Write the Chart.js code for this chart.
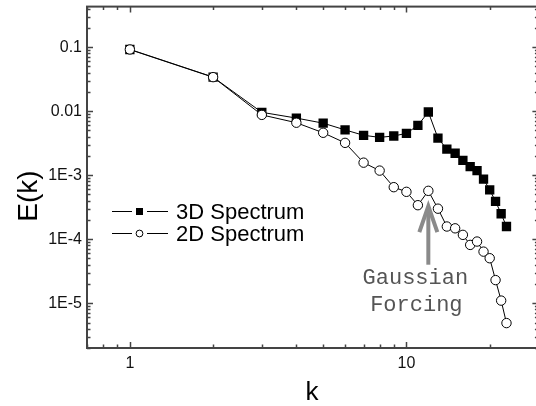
<!DOCTYPE html>
<html>
<head>
<meta charset="utf-8">
<script src="https://cdn.jsdelivr.net/npm/chart.js@4/dist/chart.umd.min.js"></script>
<style>
  html, body { margin: 0; padding: 0; background: #fff; overflow: hidden; }
  #wrap { width: 545px; height: 406px; }
</style>
</head>
<body>
<div id="wrap"><canvas id="c" width="545" height="406"></canvas></div>
<script>
// Wavenumbers
const kValues = [1, 2, 3, 4, 5, 6, 7, 8, 9, 10, 11, 12, 13, 14, 15, 16, 17, 18, 19, 20, 21, 22, 23];

// Energy spectrum of the 3D field
const spectrum3D = [0.092, 0.034, 0.0096, 0.0078, 0.0065, 0.0051, 0.0042, 0.0039, 0.0041, 0.0045,
                    0.0060, 0.0097, 0.0038, 0.00255, 0.0022, 0.0017, 0.00136, 0.00118, 0.00087,
                    0.00059, 0.00039, 0.00025, 0.000158];

// Energy spectrum of the 2D field
const spectrum2D = [0.092, 0.034, 0.00875, 0.0066, 0.0046, 0.0032, 0.00157, 0.00118, 0.00065, 0.00055,
                    0.00034, 0.00057, 0.00030, 0.000158, 0.000148, 0.000117, 0.0000815, 0.000092,
                    0.000064, 0.0000505, 0.000023, 0.000011, 0.0000049];

// Tick labels
const xTickValues = [1, 10];
const xTickLabels = ['1', '10'];
const yTickValues = [1e-5, 1e-4, 1e-3, 0.01, 0.1];
const yTickLabels = ['1E-5', '1E-4', '1E-3', '0.01', '0.1'];

// Forcing annotation (arrow under the forced wavenumber)
const forcingK = 12;
const arrowTipValue = 3.4e-4;
const arrowTailValue = 4.0e-5;

const SANS = '"Liberation Sans", Arial, Helvetica, sans-serif';
const MONO = '"Liberation Mono", "Courier New", monospace';
const AXIS_COLOR = '#444';

const toPoints = (ys) => kValues.map((k, i) => ({ x: k, y: ys[i] }));

function minorValues(min, max) {
  const out = [];
  for (let e = Math.floor(Math.log10(min)); e <= Math.ceil(Math.log10(max)); e++) {
    for (let m = 1; m <= 9; m++) {
      const v = m * Math.pow(10, e);
      if (v >= min && v <= max) out.push({ v, major: m === 1 });
    }
  }
  return out;
}

function noScalePadding(s) {
  s.paddingTop = 0;
  s.paddingBottom = 0;
  s.paddingLeft = 0;
  s.paddingRight = 0;
}

const framePlugin = {
  id: 'frame',
  afterDraw(chart) {
    const { ctx, chartArea: a, scales } = chart;
    const xs = scales.x, ys = scales.y;
    ctx.save();

    // inward tick marks on all four sides
    ctx.strokeStyle = AXIS_COLOR;
    ctx.lineWidth = 1.5;
    ctx.beginPath();
    minorValues(xs.min, xs.max).forEach(t => {
      const px = Math.round(xs.getPixelForValue(t.v)) + 0.5;
      const len = t.major ? 6 : 3.5;
      ctx.moveTo(px, a.bottom); ctx.lineTo(px, a.bottom - len);
      ctx.moveTo(px, a.top); ctx.lineTo(px, a.top + len);
    });
    minorValues(ys.min, ys.max).forEach(t => {
      const py = Math.round(ys.getPixelForValue(t.v)) + 0.5;
      const len = t.major ? 6 : 3.5;
      ctx.moveTo(a.left, py); ctx.lineTo(a.left + len, py);
      ctx.moveTo(a.right, py); ctx.lineTo(a.right - len, py);
    });
    ctx.stroke();

    // frame
    ctx.lineWidth = 2;
    ctx.strokeRect(a.left, a.top, a.right - a.left, a.bottom - a.top);

    // axis titles
    ctx.fillStyle = '#000';
    ctx.font = '26px ' + SANS;
    ctx.textAlign = 'center';
    ctx.textBaseline = 'alphabetic';
    ctx.fillText('k', 312, 400);
    ctx.save();
    ctx.translate(37, 196);
    ctx.rotate(-Math.PI / 2);
    ctx.font = '28px ' + SANS;
    ctx.fillText('E(k)', 0, 0);
    ctx.restore();

    // legend
    const rows = [
      { y: 211.5, label: '3D Spectrum', square: true },
      { y: 233.5, label: '2D Spectrum', square: false }
    ];
    rows.forEach(r => {
      ctx.strokeStyle = '#000';
      ctx.lineWidth = 1;
      ctx.beginPath();
      ctx.moveTo(112, r.y); ctx.lineTo(132, r.y);
      ctx.moveTo(147, r.y); ctx.lineTo(168, r.y);
      ctx.stroke();
      if (r.square) {
        ctx.fillStyle = '#000';
        ctx.fillRect(136, r.y - 3.5, 7, 7);
      } else {
        ctx.fillStyle = '#fff';
        ctx.beginPath();
        ctx.arc(139.5, r.y, 3.4, 0, Math.PI * 2);
        ctx.fill();
        ctx.stroke();
      }
      ctx.fillStyle = '#000';
      ctx.font = '22px ' + SANS;
      ctx.textAlign = 'left';
      ctx.textBaseline = 'middle';
      ctx.fillText(r.label, 176, r.y + 1);
    });

    // forcing arrow and caption
    const ax = xs.getPixelForValue(forcingK);
    const tipY = ys.getPixelForValue(arrowTipValue);
    const tailY = ys.getPixelForValue(arrowTailValue);
    ctx.strokeStyle = '#8a8a8a';
    ctx.lineWidth = 4;
    ctx.lineCap = 'butt';
    ctx.lineJoin = 'miter';
    ctx.beginPath();
    ctx.moveTo(ax, tipY + 2); ctx.lineTo(ax, tailY);
    ctx.stroke();
    ctx.beginPath();
    ctx.moveTo(ax - 9, tipY + 27); ctx.lineTo(ax, tipY + 1); ctx.lineTo(ax + 9, tipY + 27);
    ctx.stroke();

    ctx.fillStyle = '#555';
    ctx.font = '22px ' + MONO;
    ctx.textAlign = 'center';
    ctx.textBaseline = 'middle';
    ctx.fillText('Gaussian', ax - 13, tailY + 13);
    ctx.fillText('Forcing', ax - 12, tailY + 40);

    ctx.restore();
  }
};

new Chart(document.getElementById('c'), {
  type: 'line',
  data: {
    datasets: [
      {
        label: '2D Spectrum',
        data: toPoints(spectrum2D),
        order: 0,
        borderColor: '#000',
        borderWidth: 1,
        pointStyle: 'circle',
        pointRadius: 4.7,
        pointBackgroundColor: '#fff',
        pointBorderColor: '#000',
        pointBorderWidth: 1,
        tension: 0
      },
      {
        label: '3D Spectrum',
        data: toPoints(spectrum3D),
        order: 1,
        borderColor: '#000',
        borderWidth: 1,
        pointStyle: 'rect',
        pointRadius: 6.6,
        pointBackgroundColor: '#000',
        pointBorderColor: '#000',
        pointBorderWidth: 0,
        tension: 0
      }
    ]
  },
  options: {
    responsive: false,
    animation: false,
    devicePixelRatio: 1,
    layout: { padding: { left: 0, right: 2, top: 6, bottom: 0 } },
    plugins: { legend: { display: false }, tooltip: { enabled: false } },
    scales: {
      x: {
        type: 'logarithmic',
        min: 0.7,
        max: 30,
        grid: { display: false, drawTicks: false },
        border: { display: false },
        afterBuildTicks: (s) => { s.ticks = xTickValues.map(v => ({ value: v })); },
        afterFit: (s) => { s.height = 58; noScalePadding(s); },
        ticks: {
          autoSkip: false,
          maxRotation: 0,
          padding: 6,
          color: '#111',
          font: { family: SANS, size: 16 },
          callback: (v) => xTickLabels[xTickValues.indexOf(v)]
        }
      },
      y: {
        type: 'logarithmic',
        min: 2e-6,
        max: 0.43,
        grid: { display: false, drawTicks: false },
        border: { display: false },
        afterBuildTicks: (s) => { s.ticks = yTickValues.map(v => ({ value: v })); },
        afterFit: (s) => { s.width = 87; noScalePadding(s); },
        ticks: {
          autoSkip: false,
          padding: 5,
          color: '#111',
          font: { family: SANS, size: 16 },
          callback: (v) => yTickLabels[yTickValues.indexOf(v)]
        }
      }
    }
  },
  plugins: [framePlugin]
});
</script>
</body>
</html>
